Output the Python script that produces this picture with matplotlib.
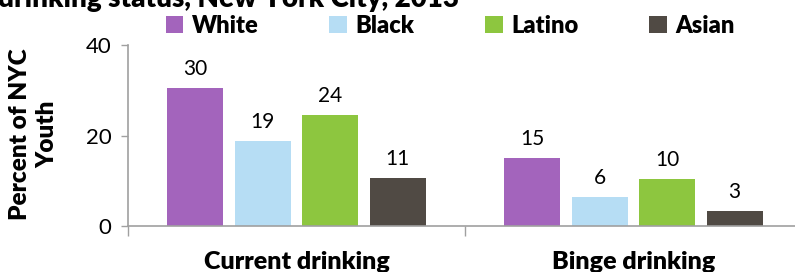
import matplotlib
matplotlib.use("Agg")
import matplotlib.pyplot as plt
import numpy as np
from matplotlib.patches import Patch

categories = ["Current drinking", "Binge drinking"]
series_names = ["White", "Black", "Latino", "Asian"]
white = [30.4, 15.1]
black = [18.8, 6.5]
latino = [24.5, 10.3]
asian = [10.7, 3.4]
labels_white = ["30", "15"]
labels_black = ["19", "6"]
labels_latino = ["24", "10"]
labels_asian = ["11", "3"]
yticks = [0, 20, 40]

colors = ["#A364BC", "#B6DDF4", "#8DC63F", "#504A44"]
FONT = ["Lato", "DejaVu Sans"]
plt.rcParams['font.family'] = FONT

W, H = 795, 272
fig = plt.figure(figsize=(W / 100, H / 100), dpi=100)
ax = fig.add_axes([128 / W, 1 - 226 / H, (802 - 128) / W, (226 - 45) / H])

series = [white, black, latino, asian]
labs = [labels_white, labels_black, labels_latino, labels_asian]
x = np.arange(len(categories))
offsets = [-0.3, -0.1, 0.1, 0.3]
bw = 0.166
for s, lab, off, c, name in zip(series, labs, offsets, colors, series_names):
    bars = ax.bar(x + off, s, width=bw, color=c, label=name, zorder=2)
    for b, t in zip(bars, lab):
        ax.text(b.get_x() + b.get_width() / 2, b.get_height() + 2.0, t,
                ha="center", va="bottom", fontsize=15, color="#000000")

ax.set_xlim(-0.5, 1.5)
ax.set_ylim(0, 40)
ax.set_yticks(yticks)
ax.set_yticklabels([str(v) for v in yticks], fontsize=16)
ax.set_xticks([-0.5, 0.5, 1.5])
ax.set_xticklabels([])
ax.tick_params(axis="x", direction="out", length=7, color="#A0A0A0", width=1)
ax.tick_params(axis="y", direction="out", length=5, color="#A0A0A0", width=1, pad=7)
for sp in ["top", "right"]:
    ax.spines[sp].set_visible(False)
for sp in ["left", "bottom"]:
    ax.spines[sp].set_color("#A0A0A0")
    ax.spines[sp].set_linewidth(1.2)

for i, c in enumerate(categories):
    ax.text(x[i], -0.14, c, transform=ax.get_xaxis_transform(),
            ha="center", va="top", fontsize=18, fontweight="heavy")

fig.text(34 / W, 1 - 134 / H, "Percent of NYC\nYouth", rotation=90,
         ha="center", va="center", fontsize=17.5, fontweight="heavy",
         linespacing=1.3)

handles = [Patch(facecolor=c, edgecolor="none") for c in colors]
leg = fig.legend(handles, series_names, loc="center", bbox_to_anchor=(450 / W, 1 - 26 / H),
                 ncol=4, frameon=False, prop={"weight": "heavy", "size": 17},
                 handlelength=0.75, handleheight=0.75, handletextpad=0.35,
                 columnspacing=3.0)

fig.text(-2 / W, 1 - 6.5 / H, "drinking status, New York City, 2013",
         ha="left", va="baseline", fontsize=20, fontweight="heavy")

fig.savefig("out.png", dpi=100)
